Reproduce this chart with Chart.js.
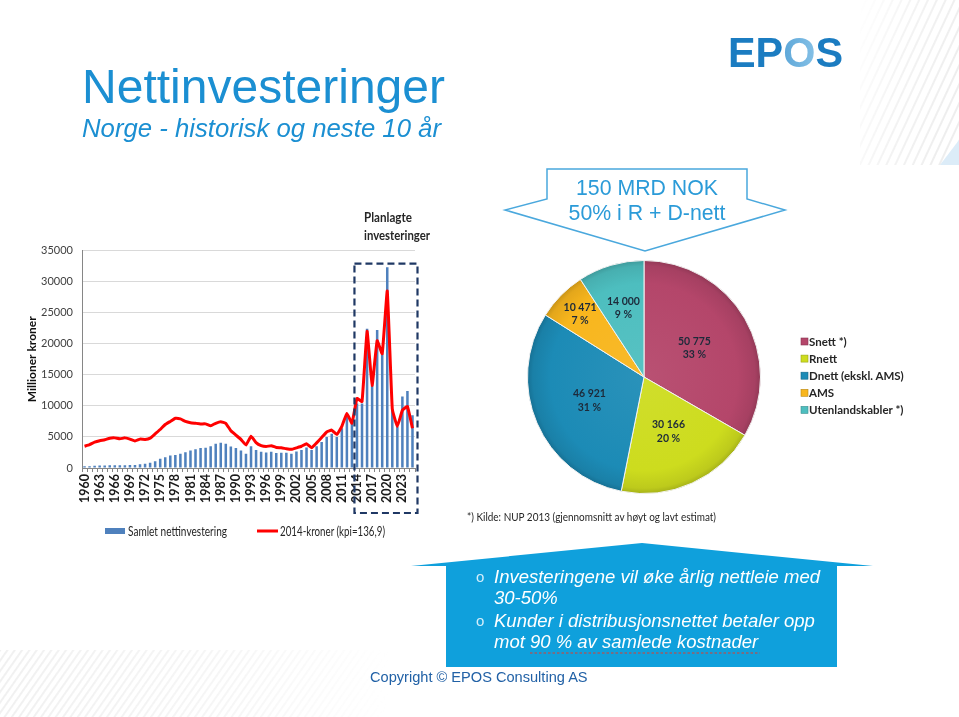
<!DOCTYPE html>
<html><head><meta charset="utf-8">
<script src="https://cdn.jsdelivr.net/npm/chart.js@4.4.1/dist/chart.umd.min.js"></script>
<style>
html,body{margin:0;padding:0;background:#fff;}
#slide{position:relative;width:959px;height:717px;overflow:hidden;background:#fff;}
#bg,#fg{position:absolute;left:0;top:0;}
#barWrap{position:absolute;left:0;top:235px;width:470px;height:288px;}
#pieWrap{position:absolute;left:519px;top:252px;width:250px;height:250px;}
</style></head>
<body>
<div id="slide">
<svg id="bg" width="959" height="717" xmlns="http://www.w3.org/2000/svg">
  <defs>
    <pattern id="diag" width="8" height="8" patternUnits="userSpaceOnUse" patternTransform="rotate(25)">
      <line x1="1" y1="0" x2="1" y2="8" stroke="#cfcfcf" stroke-width="0.7"/>
    </pattern>
    <pattern id="diag2" width="6" height="6" patternUnits="userSpaceOnUse" patternTransform="rotate(35)">
      <line x1="1" y1="0" x2="1" y2="6" stroke="#d6d6d6" stroke-width="0.7"/>
    </pattern>
    <linearGradient id="fadeTR" x1="0" y1="0" x2="1" y2="0.3">
      <stop offset="0" stop-color="#fff" stop-opacity="0"/>
      <stop offset="0.5" stop-color="#fff" stop-opacity="0.7"/>
      <stop offset="1" stop-color="#fff" stop-opacity="1"/>
    </linearGradient>
    <linearGradient id="fadeBL" x1="0" y1="0" x2="1" y2="0">
      <stop offset="0" stop-color="#fff" stop-opacity="1"/>
      <stop offset="0.6" stop-color="#fff" stop-opacity="0.6"/>
      <stop offset="1" stop-color="#fff" stop-opacity="0"/>
    </linearGradient>
    <mask id="mTR"><rect x="860" y="0" width="99" height="165" fill="url(#fadeTR)"/></mask>
    <mask id="mBL"><rect x="0" y="650" width="390" height="67" fill="url(#fadeBL)"/></mask>
    <linearGradient id="oGrad" x1="0" y1="0" x2="1" y2="0">
      <stop offset="0" stop-color="#1B7CC1"/>
      <stop offset="1" stop-color="#a6d6f2"/>
    </linearGradient>
  </defs>
  <rect x="860" y="0" width="99" height="165" fill="url(#diag)" mask="url(#mTR)"/>
  <polygon points="959,140 959,165 940,165" fill="#dcecf8"/>
  <rect x="0" y="650" width="390" height="67" fill="url(#diag2)" mask="url(#mBL)"/>
</svg>

<div id="barWrap"><canvas id="bar" width="470" height="288"></canvas></div>
<div id="pieWrap"><canvas id="pie" width="250" height="250"></canvas></div>

<svg id="fg" width="959" height="717" xmlns="http://www.w3.org/2000/svg" style="pointer-events:none">
  <g font-family="'Liberation Sans', Arial, sans-serif">
    <text x="82" y="103" font-size="48" fill="#1B8FD2" textLength="363" lengthAdjust="spacingAndGlyphs">Nettinvesteringer</text>
    <text x="82" y="137" font-size="26" font-style="italic" fill="#1B8FD2" textLength="359" lengthAdjust="spacingAndGlyphs">Norge - historisk og neste 10 år</text>
    <text x="728" y="67" font-size="42" font-weight="bold" fill="#1B7CC1" textLength="115" lengthAdjust="spacingAndGlyphs"><tspan>EP</tspan><tspan fill="url(#oGrad)">O</tspan><tspan>S</tspan></text>

    <polygon points="547,169 747,169 747,199 785,210 645,251 505,210 547,199" fill="#fff" stroke="#4aa8dd" stroke-width="1.5"/>
    <text x="647" y="195" font-size="21.3" fill="#2B9BD8" text-anchor="middle">150 MRD NOK</text>
    <text x="647" y="220" font-size="21.3" fill="#2B9BD8" text-anchor="middle">50% i R + D-nett</text>

    <polygon points="411,566 642,543 873,566 837,566 837,667 446,667 446,566" fill="#0FA0DC"/>
    <g fill="#fff" font-size="18.5" font-style="italic">
      <text x="494" y="583">Investeringene vil øke årlig nettleie med</text>
      <text x="494" y="604">30-50%</text>
      <text x="494" y="627">Kunder i distribusjonsnettet betaler opp</text>
      <text x="494" y="648">mot 90 % av samlede kostnader</text>
    </g>
    <g fill="#d4eefb" font-size="15">
      <text x="476" y="582">o</text>
      <text x="476" y="626">o</text>
    </g>
    <line x1="530" y1="653" x2="760" y2="653" stroke="#e23a2a" stroke-width="1.2" stroke-dasharray="2.5,2"/>

    <text x="370" y="682" font-size="14.6" fill="#2161A6">Copyright © EPOS Consulting AS</text>
  </g>
  <g font-family="Lato, 'Open Sans', sans-serif">
    <text x="364" y="222" font-size="14" font-weight="bold" fill="#262626" textLength="48" lengthAdjust="spacingAndGlyphs">Planlagte</text>
    <text x="364" y="240" font-size="14" font-weight="bold" fill="#262626" textLength="66" lengthAdjust="spacingAndGlyphs">investeringer</text>
    <text x="467" y="521" font-size="10.5" fill="#262626" textLength="249" lengthAdjust="spacingAndGlyphs">*) Kilde: NUP 2013 (gjennomsnitt av høyt og lavt estimat)</text>
    <g id="pieLegend"></g>
    <g id="barLegend"></g>
  </g>
</svg>
</div>

<script>
// ---------- DATA ----------
const years = [1960,1961,1962,1963,1964,1965,1966,1967,1968,1969,
  1970,1971,1972,1973,1974,1975,1976,1977,1978,1979,
  1980,1981,1982,1983,1984,1985,1986,1987,1988,1989,
  1990,1991,1992,1993,1994,1995,1996,1997,1998,1999,
  2000,2001,2002,2003,2004,2005,2006,2007,2008,2009,
  2010,2011,2012,2013,2014,2015,2016,2017,2018,2019,
  2020,2021,2022,2023,2024,2025];

// Samlet nettinvestering (nominal, MNOK)
const samletNettinvestering = [300,300,350,400,400,450,450,450,450,500,
  500,600,700,850,1100,1500,1750,2000,2100,2300,
  2550,2800,3000,3200,3250,3500,3900,4050,3900,3450,
  3200,2800,2300,3500,2900,2600,2500,2600,2400,2450,
  2450,2300,2650,2900,3300,2900,3500,4200,5000,5500,
  5000,6400,8200,7100,10400,10400,22400,13300,22200,18400,
  32300,9500,6700,11500,12400,8500];

// 2014-kroner (kpi=136,9)
const kroner2014 = [3500,3750,4150,4400,4550,4800,4850,4700,4850,4650,
  4350,4650,4600,4800,5500,6200,7000,7500,8000,7900,
  7500,7300,7200,7100,7100,6800,7200,7450,7200,6000,
  5300,4600,3700,5100,4100,3600,3450,3600,3300,3250,
  3100,3000,3250,3500,3900,3250,4050,4900,5800,6100,
  5400,6700,8800,7200,11200,10700,22000,13300,20500,18400,
  28500,9500,6700,9300,9900,6400];

const planStartYear = 2014;
const yTickMax = 35000;
const yTickStep = 5000;

const seriesNames = ['Samlet nettinvestering', '2014-kroner (kpi=136,9)'];
const seriesColors = ['#4F81BD', '#FF0000'];

const pieLabels = ['Snett *)', 'Rnett', 'Dnett (ekskl. AMS)', 'AMS', 'Utenlandskabler *)'];
const pieValues = [50775, 30166, 46921, 10471, 14000];
const pieColors = ['#B4466A', '#CDDC1E', '#1C8BB6', '#F8B61D', '#4DBEBF'];

// ---------- HELPERS ----------
const FONT = "Lato, 'Open Sans', sans-serif";
function shade(hex, f) {
  const n = parseInt(hex.slice(1), 16);
  let r = (n >> 16) & 255, g = (n >> 8) & 255, b = n & 255;
  if (f < 0) { r = r * (1 + f); g = g * (1 + f); b = b * (1 + f); }
  else { r = r + (255 - r) * f; g = g + (255 - g) * f; b = b + (255 - b) * f; }
  return 'rgb(' + Math.round(r) + ',' + Math.round(g) + ',' + Math.round(b) + ')';
}
function fmtThousands(v) {
  return String(v).replace(/\B(?=(\d{3})+(?!\d))/g, ' ');
}

// ---------- BAR / LINE CHART ----------
const planBoxPlugin = {
  id: 'planBox',
  afterDatasetsDraw(chart) {
    const xs = chart.scales.x, ca = chart.chartArea, ctx = chart.ctx;
    const i0 = years.indexOf(planStartYear);
    const half = (xs.getPixelForValue(1) - xs.getPixelForValue(0)) / 2;
    const left = xs.getPixelForValue(i0) - half;
    const right = xs.getPixelForValue(years.length - 1) + half + 2.5;
    const top = ca.top + 13;
    const bottom = ca.bottom + 45;
    ctx.save();
    ctx.strokeStyle = '#1F3864';
    ctx.lineWidth = 2.2;
    ctx.setLineDash([7, 4]);
    ctx.strokeRect(left, top, right - left, bottom - top);
    ctx.restore();
  }
};

new Chart(document.getElementById('bar'), {
  type: 'bar',
  data: {
    labels: years,
    datasets: [
      {
        type: 'bar', label: seriesNames[0], data: samletNettinvestering,
        backgroundColor: seriesColors[0], borderWidth: 0,
        barPercentage: 0.5, categoryPercentage: 1.0, order: 2
      },
      {
        type: 'line', label: seriesNames[1], data: kroner2014,
        borderColor: seriesColors[1], backgroundColor: seriesColors[1], borderWidth: 3,
        pointRadius: 0, tension: 0.1, order: 1
      }
    ]
  },
  options: {
    responsive: false, animation: false, devicePixelRatio: 1,
    layout: { padding: { left: 25, right: 55, top: 0, bottom: 0 } },
    plugins: { tooltip: { enabled: false }, legend: { display: false } },
    scales: {
      x: {
        offset: true,
        grid: { display: true, drawOnChartArea: false, drawTicks: true, tickLength: 4, color: '#868686', offset: true },
        border: { display: true, color: '#868686' },
        ticks: {
          autoSkip: false, maxRotation: 90, minRotation: 90, padding: 2,
          color: '#1a1a1a', font: { family: FONT, size: 12.5, weight: 'bold' },
          callback: (v, i) => (i % 3 === 0 ? String(years[i]) : '')
        },
        afterFit(s) { s.height = 55; }
      },
      y: {
        min: 0, max: yTickMax,
        ticks: { stepSize: yTickStep, padding: 9, color: '#404040', font: { family: FONT, size: 11 },
                 callback: v => String(v) },
        grid: { color: '#D9D9D9', drawTicks: false },
        border: { display: true, color: '#868686' },
        title: { display: true, text: 'Millioner kroner', color: '#111', padding: 0,
                 font: { family: FONT, size: 12, weight: 'bold' } },
        afterFit(s) { s.width = 57; }
      }
    }
  },
  plugins: [planBoxPlugin]
});

// ---------- PIE CHART ----------
const pieLabelPlugin = {
  id: 'pieValueLabels',
  afterDatasetsDraw(chart, args, opts) {
    const ctx = chart.ctx;
    const meta = chart.getDatasetMeta(0);
    const data = chart.data.datasets[0].data;
    const total = data.reduce((a, b) => a + b, 0);
    ctx.save();
    ctx.font = 'bold 10.5px ' + FONT;
    ctx.fillStyle = '#1d2a3a';
    ctx.textAlign = 'center';
    ctx.textBaseline = 'middle';
    meta.data.forEach((arc, i) => {
      const p = arc.getProps(['x', 'y', 'startAngle', 'endAngle', 'outerRadius'], true);
      const mid = (p.startAngle + p.endAngle) / 2;
      const r = p.outerRadius * opts.radii[i];
      const px = p.x + Math.cos(mid) * r, py = p.y + Math.sin(mid) * r;
      ctx.fillText(fmtThousands(data[i]), px, py - 6.5);
      ctx.fillText(Math.round(data[i] / total * 100) + ' %', px, py + 7);
    });
    ctx.restore();
  }
};

new Chart(document.getElementById('pie'), {
  type: 'pie',
  data: {
    labels: pieLabels,
    datasets: [{
      data: pieValues,
      backgroundColor(c) {
        const base = pieColors[c.dataIndex];
        const ca = c.chart.chartArea;
        if (!ca) return base;
        const cx = (ca.left + ca.right) / 2, cy = (ca.top + ca.bottom) / 2;
        const r = Math.min(ca.right - ca.left, ca.bottom - ca.top) / 2;
        const g = c.chart.ctx.createRadialGradient(cx, cy, 0, cx, cy, r);
        g.addColorStop(0, shade(base, 0.06));
        g.addColorStop(0.8, base);
        g.addColorStop(0.95, shade(base, -0.08));
        g.addColorStop(1, shade(base, -0.2));
        return g;
      },
      borderColor: '#f2f2f2', borderWidth: 1
    }]
  },
  options: {
    responsive: false, animation: false, devicePixelRatio: 1,
    layout: { padding: 8 },
    plugins: {
      legend: { display: false }, tooltip: { enabled: false },
      pieValueLabels: { radii: [0.5, 0.51, 0.51, 0.77, 0.62] }
    }
  },
  plugins: [pieLabelPlugin]
});

// ---------- LEGENDS (built from data arrays) ----------
(function () {
  const NS = 'http://www.w3.org/2000/svg';
  function el(tag, attrs, parent, text) {
    const e = document.createElementNS(NS, tag);
    for (const k in attrs) e.setAttribute(k, attrs[k]);
    if (text !== undefined) e.textContent = text;
    parent.appendChild(e);
    return e;
  }
  const g = document.getElementById('pieLegend');
  pieLabels.forEach((lab, i) => {
    const yc = 341.5 + i * 17.1;
    el('rect', { x: 801, y: yc - 3.5, width: 7, height: 7, fill: pieColors[i],
                 stroke: shade(pieColors[i], -0.25), 'stroke-width': 0.6 }, g);
    el('text', { x: 809, y: yc + 4, 'font-size': 11.5, 'font-weight': 'bold', fill: '#262626' }, g, lab);
  });
  const b = document.getElementById('barLegend');
  el('rect', { x: 105, y: 528, width: 20, height: 6, fill: seriesColors[0] }, b);
  el('text', { x: 128, y: 535.5, 'font-size': 13, fill: '#262626', textLength: 99, lengthAdjust: 'spacingAndGlyphs' }, b, seriesNames[0]);
  el('line', { x1: 257, y1: 531, x2: 278, y2: 531, stroke: seriesColors[1], 'stroke-width': 3 }, b);
  el('text', { x: 280, y: 535.5, 'font-size': 13, fill: '#262626', textLength: 105, lengthAdjust: 'spacingAndGlyphs' }, b, seriesNames[1]);
})();
</script>
</body></html>
